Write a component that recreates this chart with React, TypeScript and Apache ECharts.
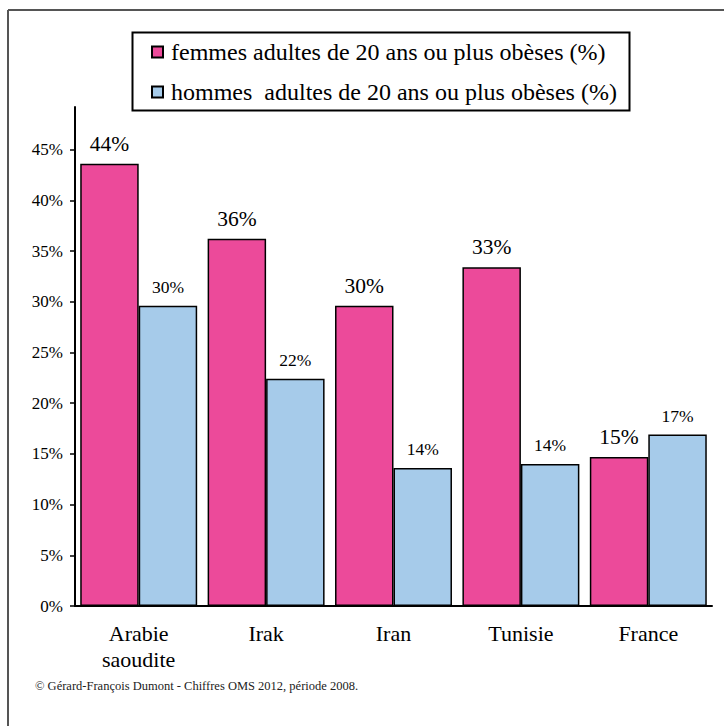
import React, { useEffect, useRef } from "react";
import * as echarts from "echarts";

const categories = ["Arabie\nsaoudite", "Irak", "Iran", "Tunisie", "France"];
const femmes = [43.6, 36.2, 29.6, 33.4, 14.7];
const hommes = [29.6, 22.4, 13.6, 14.0, 16.9];
const yTicks = [0, 5, 10, 15, 20, 25, 30, 35, 40, 45];
const seriesNames = [
  "femmes adultes de 20 ans ou plus obèses (%)",
  "hommes  adultes de 20 ans ou plus obèses (%)",
];
const footer = "© Gérard-François Dumont - Chiffres OMS 2012, période 2008.";

const FONT = "Times New Roman, Liberation Serif, serif";

export default function App() {
  const ref = useRef<HTMLDivElement>(null);
  useEffect(() => {
    document.body.style.margin = "0";
    const chart = echarts.init(ref.current!, undefined, { renderer: "svg" });
    chart.setOption({
      animation: false,
      backgroundColor: "#ffffff",
      textStyle: { fontFamily: FONT },
      grid: { left: 75, right: 12, top: 107, bottom: 120, containLabel: false },
      legend: {
        orient: "vertical",
        left: 146,
        top: 35,
        padding: 5,
        itemWidth: 11,
        itemHeight: 11,
        itemGap: 16,
        icon: "rect",
        textStyle: { fontFamily: FONT, fontSize: 24, color: "#000", lineHeight: 24, padding: [0, 0, 0, 3] },
        data: seriesNames,
      },
      xAxis: {
        type: "category",
        data: categories,
        axisLine: { lineStyle: { color: "#000", width: 2 } },
        axisTick: { length: 6, lineStyle: { color: "#000", width: 2 } },
        axisLabel: { fontFamily: FONT, fontSize: 22, color: "#000", lineHeight: 26, margin: 14 },
      },
      yAxis: {
        type: "value",
        min: 0,
        max: 49.2,
        interval: 5,
        splitLine: { show: false },
        axisLine: { show: true, lineStyle: { color: "#000", width: 2 } },
        axisTick: { show: true, length: 5, customValues: yTicks, lineStyle: { color: "#000", width: 1.5 } },
        axisLabel: {
          customValues: yTicks,
          fontFamily: FONT,
          fontSize: 17,
          color: "#000",
          margin: 12,
          formatter: (v: number) => `${v}%`,
        },
      },
      series: [
        {
          name: seriesNames[0],
          type: "bar",
          data: femmes,
          barGap: "0%",
          barCategoryGap: "8.2%",
          itemStyle: { color: "#EC4A9A", borderColor: "#000", borderWidth: 1.5 },
          label: {
            show: true,
            position: "top",
            distance: 9,
            fontFamily: FONT,
            fontSize: 21.5,
            color: "#000",
            formatter: (p: any) => `${Math.round(p.value)}%`,
          },
        },
        {
          name: seriesNames[1],
          type: "bar",
          data: hommes,
          barGap: "0%",
          barCategoryGap: "8.2%",
          itemStyle: { color: "#A6CBEA", borderColor: "#000", borderWidth: 1.5 },
          label: {
            show: true,
            position: "top",
            distance: 10,
            fontFamily: FONT,
            fontSize: 17.5,
            color: "#000",
            formatter: (p: any) => `${Math.round(p.value)}%`,
          },
        },
      ],
      graphic: [
        { type: "line", shape: { x1: 8, y1: 10, x2: 724, y2: 10 }, style: { stroke: "#555", lineWidth: 2 } },
        { type: "line", shape: { x1: 8, y1: 10, x2: 8, y2: 726 }, style: { stroke: "#555", lineWidth: 2 } },
        {
          type: "rect",
          shape: { x: 132.5, y: 32.5, width: 497, height: 78 },
          style: { fill: "none", stroke: "#000", lineWidth: 2 },
          z: -1,
        },
        {
          type: "text",
          left: 35,
          top: 679,
          style: { text: footer, fontFamily: FONT, fontSize: 12.5, fill: "#222" },
        },
      ],
    });
    return () => chart.dispose();
  }, []);
  return <div ref={ref} style={{ width: 724, height: 726 }} />;
}
